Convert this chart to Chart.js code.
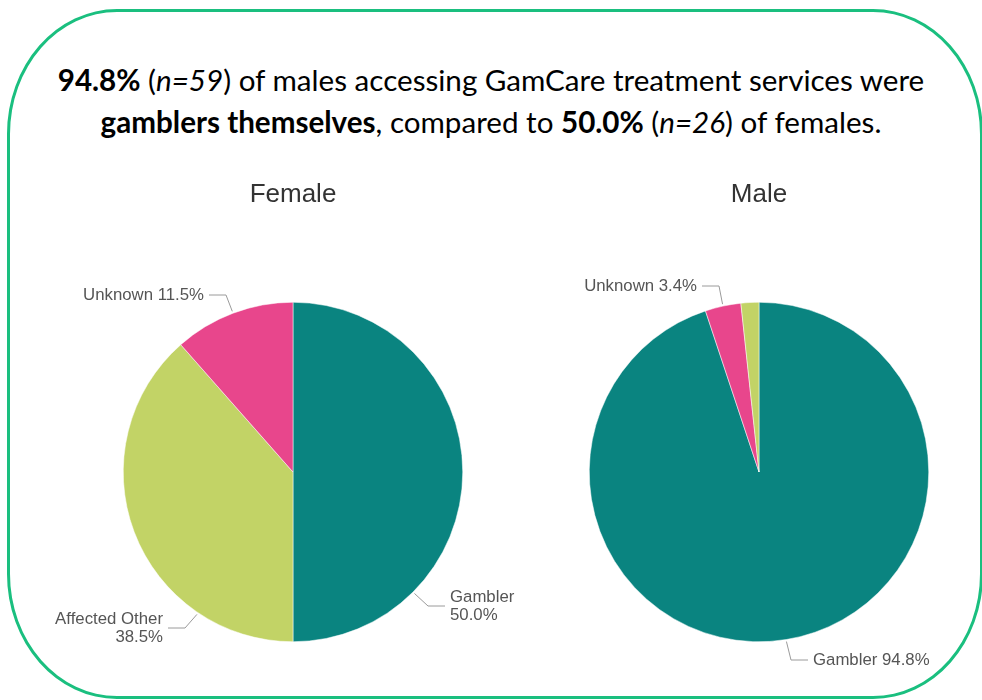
<!DOCTYPE html>
<html>
<head>
<meta charset="utf-8">
<title>Client type by gender</title>
<script src="https://cdn.jsdelivr.net/npm/chart.js@4.4.1/dist/chart.umd.min.js"></script>
<style>
  html, body { margin: 0; padding: 0; background: #fff; overflow: hidden; }
  body { width: 982px; height: 700px; position: relative; }
  .frame {
    position: absolute; left: 7px; top: 9px; width: 976px; height: 690px;
    box-sizing: border-box; border: 3px solid #1abf7f;
    border-radius: 110px / 125px;
  }
  .headline {
    position: absolute; left: 0; top: 59px; width: 982px;
    text-align: center; font-family: Lato, sans-serif; font-size: 29.6px;
    line-height: 42px; color: #000;
  }
  .headline b { font-weight: 700; }
  canvas { position: absolute; top: 170px; }
  #female { left: 33px; }
  #male { left: 499px; }
</style>
</head>
<body>
<div class="frame"></div>
<div class="headline">
  <b>94.8%</b> (<i>n=59</i>) of males accessing GamCare treatment services were<br>
  <b>gamblers themselves</b>, compared to <b>50.0%</b> (<i>n=26</i>) of females.
</div>
<canvas id="female" width="520" height="510"></canvas>
<canvas id="male" width="520" height="510"></canvas>

<script>
// percentages of clients by type
const femaleLabels = ['Gambler', 'Affected Other', 'Unknown']
const femaleValues = [50.0, 38.5, 11.5]
const maleLabels = ['Gambler', 'Unknown', 'Affected Other']
const maleValues = [94.8, 3.4, 1.7]

const colours = {
  'Gambler': '#0a8480',
  'Affected Other': '#c2d366',
  'Unknown': '#e8468c'
}

// where each callout sits, relative to the pie centre
// angle = where the connector touches the rim (degrees clockwise from top), null = slice middle
const femaleCallouts = {
  'Gambler': { dx: 157, dy: 134, align: 'left', wrap: true, angle: 135 },
  'Affected Other': { dx: -130, dy: 156, align: 'right', wrap: true, angle: 214 },
  'Unknown': { dx: -89, dy: -177, align: 'right', wrap: false, angle: null }
}
const maleCallouts = {
  'Gambler': { dx: 54, dy: 188, align: 'left', wrap: false, angle: null },
  'Unknown': { dx: -62, dy: -186, align: 'right', wrap: false, angle: null }
}

const calloutPlugin = {
  id: 'callouts',
  afterDatasetsDraw(chart, args, opts) {
    const ctx = chart.ctx
    const meta = chart.getDatasetMeta(0)
    const values = chart.data.datasets[0].data
    ctx.save()
    ctx.font = '16.8px "Liberation Sans", Arial, sans-serif'
    ctx.textBaseline = 'middle'
    meta.data.forEach((arc, i) => {
      const name = chart.data.labels[i]
      const c = opts.layout[name]
      if (!c) return
      const p = arc.getProps(['x', 'y', 'startAngle', 'endAngle', 'outerRadius'], true)
      const a = c.angle === null ? (p.startAngle + p.endAngle) / 2 : -Math.PI / 2 + c.angle * Math.PI / 180
      const r = p.outerRadius + 2
      const tx = p.x + r * Math.cos(a)
      const ty = p.y + r * Math.sin(a)
      const lx = p.x + c.dx
      const ly = p.y + c.dy
      const dir = c.align === 'left' ? -1 : 1
      const end = lx + dir * 5
      const crook = lx + dir * 22

      ctx.strokeStyle = '#9a9a9a'
      ctx.lineWidth = 1
      ctx.beginPath()
      ctx.moveTo(tx, ty)
      ctx.lineTo(crook, ly)
      ctx.lineTo(end, ly)
      ctx.stroke()

      const pct = values[i].toFixed(1) + '%'
      ctx.fillStyle = '#555555'
      ctx.textAlign = c.align
      if (c.wrap) {
        ctx.fillText(name, lx, ly - 9)
        ctx.fillText(pct, lx, ly + 9)
      } else {
        ctx.fillText(name + ' ' + pct, lx, ly)
      }
    })
    ctx.restore()
  }
}

function makePie(el, title, labels, values, layout) {
  return new Chart(el, {
    type: 'pie',
    data: {
      labels: labels,
      datasets: [{
        data: values,
        backgroundColor: labels.map((l) => colours[l]),
        borderColor: '#ffffff',
        borderWidth: 0.5,
        hoverOffset: 0
      }]
    },
    options: {
      responsive: false,
      animation: false,
      devicePixelRatio: 1,
      layout: { padding: { left: 90, right: 90, top: 0, bottom: 38 } },
      plugins: {
        legend: { display: false },
        tooltip: { enabled: false },
        title: {
          display: true,
          text: title,
          color: '#333333',
          font: { family: '"Liberation Sans", Arial, sans-serif', size: 26, weight: 'normal' },
          padding: { top: 9.4, bottom: 91.4 }
        },
        callouts: { layout: layout }
      }
    },
    plugins: [calloutPlugin]
  })
}

makePie(document.getElementById('female'), 'Female', femaleLabels, femaleValues, femaleCallouts)
makePie(document.getElementById('male'), 'Male', maleLabels, maleValues, maleCallouts)
</script>
</body>
</html>
